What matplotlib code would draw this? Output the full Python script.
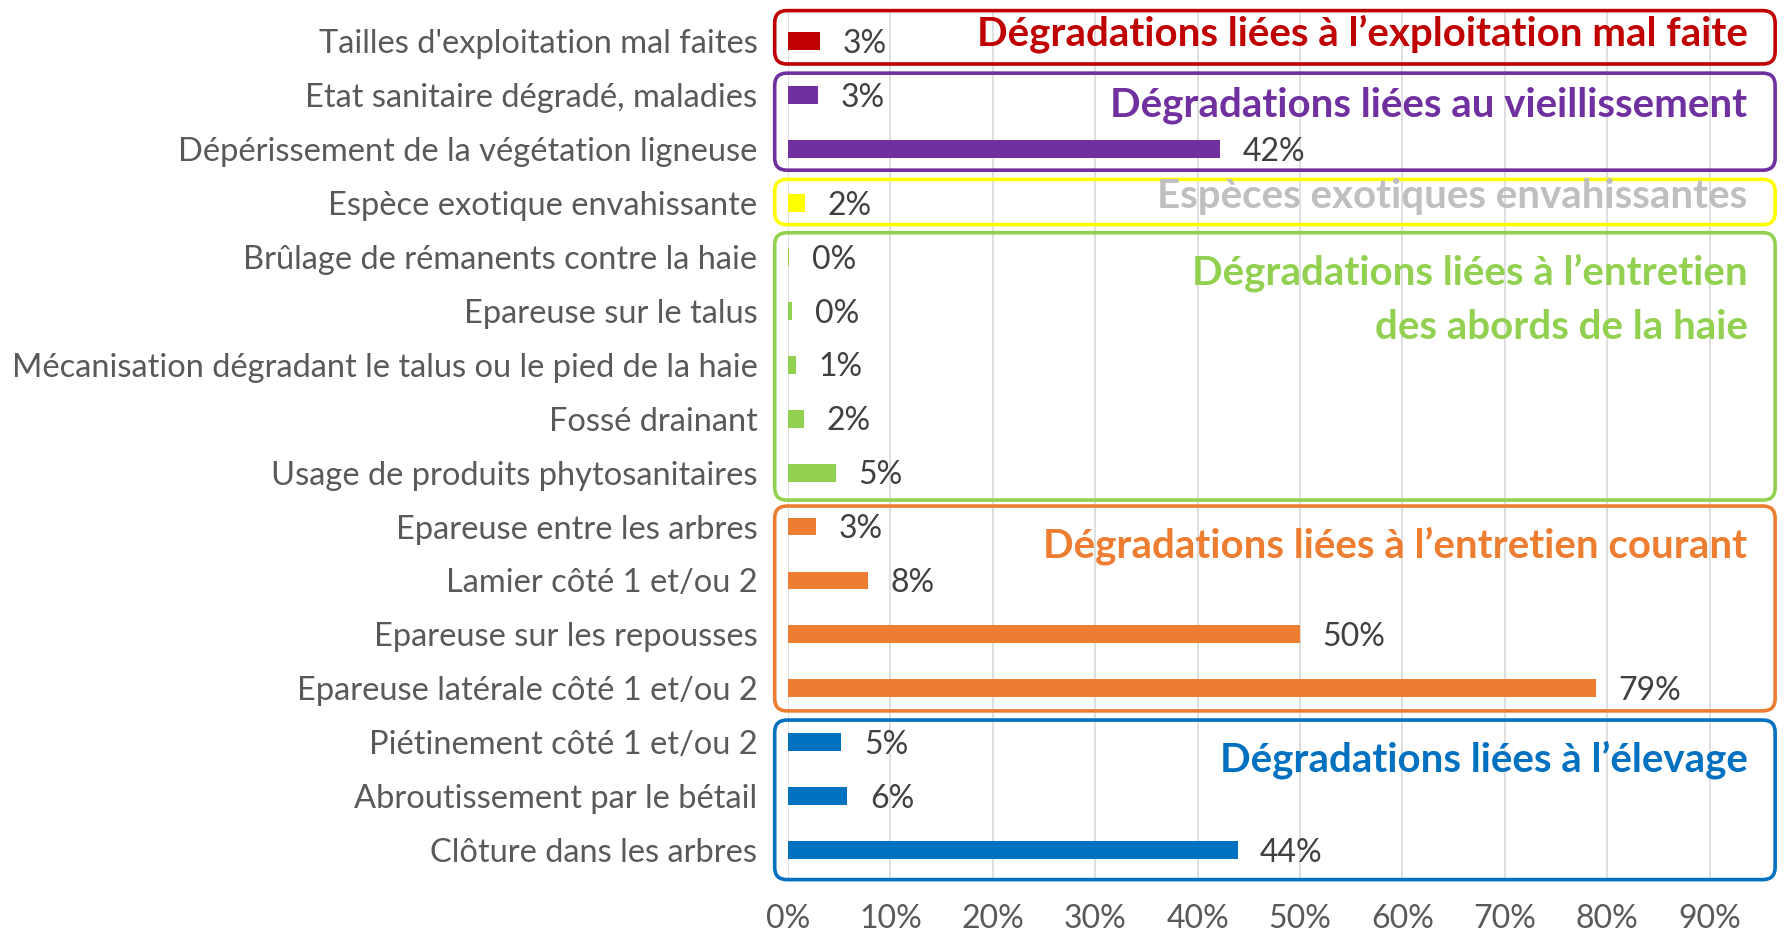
import matplotlib
matplotlib.use("Agg")
import matplotlib.pyplot as plt
from matplotlib.patches import FancyBboxPatch

# categories top -> bottom
labels = ["Tailles d'exploitation mal faites",
          "Etat sanitaire dégradé, maladies",
          "Dépérissement de la végétation ligneuse",
          "Espèce exotique envahissante",
          "Brûlage de rémanents contre la haie",
          "Epareuse sur le talus",
          "Mécanisation dégradant le talus ou le pied de la haie",
          "Fossé drainant",
          "Usage de produits phytosanitaires",
          "Epareuse entre les arbres",
          "Lamier côté 1 et/ou 2",
          "Epareuse sur les repousses",
          "Epareuse latérale côté 1 et/ou 2",
          "Piétinement côté 1 et/ou 2",
          "Abroutissement par le bétail",
          "Clôture dans les arbres"]
values = [3.1, 2.9, 42.2, 1.7, 0.1, 0.4, 0.8, 1.6, 4.7, 2.7, 7.8, 50.0, 78.9, 5.2, 5.8, 43.9]
group_of = [0, 1, 1, 2, 3, 3, 3, 3, 3, 4, 4, 4, 4, 5, 5, 5]

group_titles = ["Dégradations liées à l’exploitation mal faite",
                "Dégradations liées au vieillissement",
                "Espèces exotiques envahissantes",
                "Dégradations liées à l’entretien\ndes abords de la haie",
                "Dégradations liées à l’entretien courant",
                "Dégradations liées à l’élevage"]
group_colors = ["#C00000", "#7030A0", "#FFFF00", "#92D050", "#ED7D31", "#0070C0"]
title_colors = ["#C00000", "#7030A0", "#BFBFBF", "#92D050", "#ED7D31", "#0070C0"]
# box extents in row units, title rows
box_top = [-0.57, 0.59, 2.56, 3.55, 8.62, 12.59]
box_bot = [0.42, 2.39, 3.40, 8.51, 12.42, 15.55]
title_rows = [[-0.15], [1.18], [2.87], [4.29, 5.30], [9.36], [13.33]]

ticks = [0, 10, 20, 30, 40, 50, 60, 70, 80, 90]

plt.rcParams["font.family"] = ["Lato", "DejaVu Sans"]

W, H = 1784, 935
fig = plt.figure(figsize=(W / 100, H / 100), dpi=100)
x0, x1 = 788, 788 + 0.965 * 1024
ax = fig.add_axes([x0 / W, 1 - 878 / H, (x1 - x0) / W, (878 - 9) / H])

y = list(range(len(labels)))
bar_colors = [group_colors[g] for g in group_of]
ax.barh(y, values, height=0.33, color=bar_colors, zorder=2)
for yi, v in zip(y, values):
    ax.text(v + 2.2, yi + 0.05, f"{round(v)}%", va="center", ha="left",
            fontsize=23, color="#404040", zorder=3)

ax.set_xlim(0, 96.5)
ax.set_ylim(15.52, -0.6)
ax.set_xticks(ticks)
ax.set_xticklabels([f"{t}%" for t in ticks])
ax.set_yticks(y)
ax.set_yticklabels(labels)
ax.tick_params(axis="both", length=0, labelsize=23, labelcolor="#595959")
ax.tick_params(axis="y", pad=22, labelsize=23.5)
ax.tick_params(axis="x", pad=19)
ax.grid(axis="x", color="#D9D9D9", lw=1.2, zorder=0)
for s in ax.spines.values():
    s.set_visible(False)

# group frames (rounded, aspect-corrected: 10.24 px per % vs 53.9 px per row)
aspect = 10.24 / 53.9
for g in range(len(group_titles)):
    box = FancyBboxPatch((-1.3, box_top[g]), 97.7, box_bot[g] - box_top[g],
                         boxstyle="round,pad=0,rounding_size=1.2",
                         mutation_aspect=aspect,
                         fill=False, ec=group_colors[g], lw=2.6,
                         clip_on=False, zorder=4)
    ax.add_patch(box)
    lines = group_titles[g].split("\n")
    for line, ty in zip(lines, title_rows[g]):
        ax.text(93.7, ty, line, ha="right", va="center", fontsize=29,
                fontweight="bold", color=title_colors[g], zorder=5)

fig.savefig("out.png", dpi=100)
